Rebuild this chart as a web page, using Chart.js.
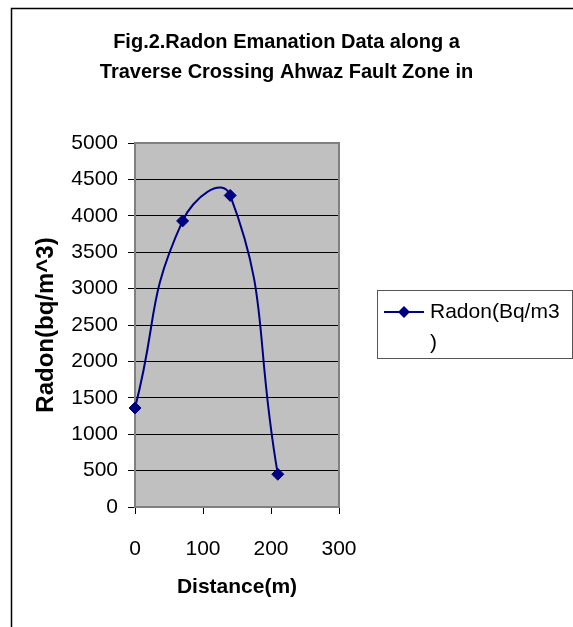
<!DOCTYPE html>
<html>
<head>
<meta charset="utf-8">
<script src="https://cdn.jsdelivr.net/npm/chart.js@4.4.1/dist/chart.umd.min.js"></script>
<style>
  body { margin: 0; background: #fff; }
  canvas { display: block; }
</style>
</head>
<body>
<canvas id="chart" width="573" height="627"></canvas>
<script>
const titleLines = ['Fig.2.Radon Emanation Data along a', 'Traverse Crossing Ahwaz Fault Zone in'];
const seriesLabel = 'Radon(Bq/m3)';
const xTitle = 'Distance(m)';
const yTitle = 'Radon(bq/m^3)';
const distances = [0, 70, 140, 210];
const radon = [1360, 3930, 4280, 450];
const xTicks = [0, 100, 200, 300];
const yTicks = [0, 500, 1000, 1500, 2000, 2500, 3000, 3500, 4000, 4500, 5000];

const FONT = 'Liberation Sans, Arial, Helvetica, sans-serif';
const NAVY = '#000080';

// gray plot area, its frame and the outer chart border
const plotFrame = {
    id: 'plotFrame',
    beforeDraw(chart) {
        const {ctx, chartArea: a} = chart;
        ctx.save();
        ctx.fillStyle = '#fff';
        ctx.fillRect(0, 0, chart.width, chart.height);
        ctx.fillStyle = '#c0c0c0';
        ctx.fillRect(a.left, a.top, a.right - a.left, a.bottom - a.top);
        ctx.strokeStyle = '#000';
        ctx.lineWidth = 1.5;
        ctx.beginPath();
        ctx.moveTo(11.5, chart.height);
        ctx.lineTo(11.5, 8.5);
        ctx.lineTo(chart.width, 8.5);
        ctx.stroke();
        ctx.restore();
    },
    beforeDatasetsDraw(chart) {
        const {ctx, chartArea: a} = chart;
        ctx.save();
        ctx.strokeStyle = '#808080';
        ctx.lineWidth = 2;
        ctx.strokeRect(a.left, a.top, a.right - a.left, a.bottom - a.top);
        ctx.restore();
    }
};

// Excel style legend box on the right, label wraps inside the box
const boxLegend = {
    id: 'boxLegend',
    afterDraw(chart) {
        const ctx = chart.ctx;
        const ds = chart.data.datasets[0];
        const left = 377, top = 290, right = chart.width - 1, bottom = 358;
        ctx.save();
        ctx.strokeStyle = '#555';
        ctx.lineWidth = 1;
        ctx.strokeRect(left + 0.5, top + 0.5, right - left, bottom - top);

        const sy = 312;
        ctx.strokeStyle = ds.borderColor;
        ctx.lineWidth = 2;
        ctx.beginPath();
        ctx.moveTo(384, sy);
        ctx.lineTo(424, sy);
        ctx.stroke();
        const r = ds.pointRadius;
        ctx.fillStyle = ds.pointBackgroundColor;
        ctx.beginPath();
        ctx.moveTo(404, sy - r);
        ctx.lineTo(404 + r, sy);
        ctx.lineTo(404, sy + r);
        ctx.lineTo(404 - r, sy);
        ctx.closePath();
        ctx.fill();

        ctx.font = '21px ' + FONT;
        ctx.fillStyle = '#000';
        ctx.textBaseline = 'middle';
        const tx = 430, maxW = right - tx - 8;
        const lines = [];
        let cur = '';
        for (const ch of ds.label) {
            if (cur && ctx.measureText(cur + ch).width > maxW) {
                lines.push(cur);
                cur = ch;
            } else {
                cur += ch;
            }
        }
        lines.push(cur);
        lines.forEach((t, i) => ctx.fillText(t, tx, sy + i * 31));
        ctx.restore();
    }
};

const points = distances.map((d, i) => ({x: d, y: radon[i]}));

const ctx = document.getElementById('chart').getContext('2d');
const myChart = new Chart(ctx, {
    type: 'line',
    data: {
        datasets: [{
            label: seriesLabel,
            data: points,
            borderColor: NAVY,
            backgroundColor: NAVY,
            borderWidth: 2,
            tension: 0.5,
            pointStyle: 'rectRot',
            pointRadius: 6,
            pointBackgroundColor: NAVY,
            pointBorderColor: NAVY,
            pointBorderWidth: 1,
            clip: false
        }]
    },
    options: {
        responsive: false,
        animation: false,
        layout: {padding: {left: 0, right: 0, top: 0, bottom: 10}},
        plugins: {
            legend: {display: false},
            tooltip: {enabled: false},
            title: {
                display: true,
                text: titleLines,
                color: '#000',
                font: {family: FONT, size: 20, weight: 'bold', lineHeight: 1.5},
                padding: {top: 27, bottom: 56}
            }
        },
        scales: {
            x: {
                type: 'linear',
                min: xTicks[0],
                max: xTicks[xTicks.length - 1],
                afterBuildTicks: s => { s.ticks = xTicks.map(v => ({value: v})); },
                afterFit: s => { s.height = 110; },
                grid: {display: true, drawOnChartArea: false, drawTicks: true, tickLength: 7, color: '#000'},
                border: {display: true, color: '#808080', width: 2},
                ticks: {color: '#000', padding: 23, font: {family: FONT, size: 21}, callback: v => String(v)},
                title: {
                    display: true,
                    text: xTitle,
                    color: '#000',
                    font: {family: FONT, size: 21, weight: 'bold'},
                    padding: {top: 0, bottom: 17}
                }
            },
            y: {
                type: 'linear',
                position: 'left',
                min: yTicks[0],
                max: yTicks[yTicks.length - 1],
                afterBuildTicks: s => { s.ticks = yTicks.map(v => ({value: v})); },
                afterFit: s => { s.width = 135; },
                grid: {color: '#000', lineWidth: 1, tickLength: 7},
                border: {display: true, color: '#808080', width: 2},
                ticks: {color: '#000', padding: 10, font: {family: FONT, size: 21}, callback: v => String(v)},
                title: {
                    display: true,
                    text: yTitle,
                    color: '#000',
                    font: {family: FONT, size: 24, weight: 'bold'},
                    padding: {top: 32, bottom: 0}
                }
            },
            // empty axis that keeps the right hand space for the legend box
            yRight: {
                type: 'linear',
                position: 'right',
                display: true,
                afterFit: s => { s.width = 234; },
                grid: {display: false},
                border: {display: false},
                ticks: {display: false}
            }
        }
    },
    plugins: [plotFrame, boxLegend]
});
</script>
</body>
</html>
